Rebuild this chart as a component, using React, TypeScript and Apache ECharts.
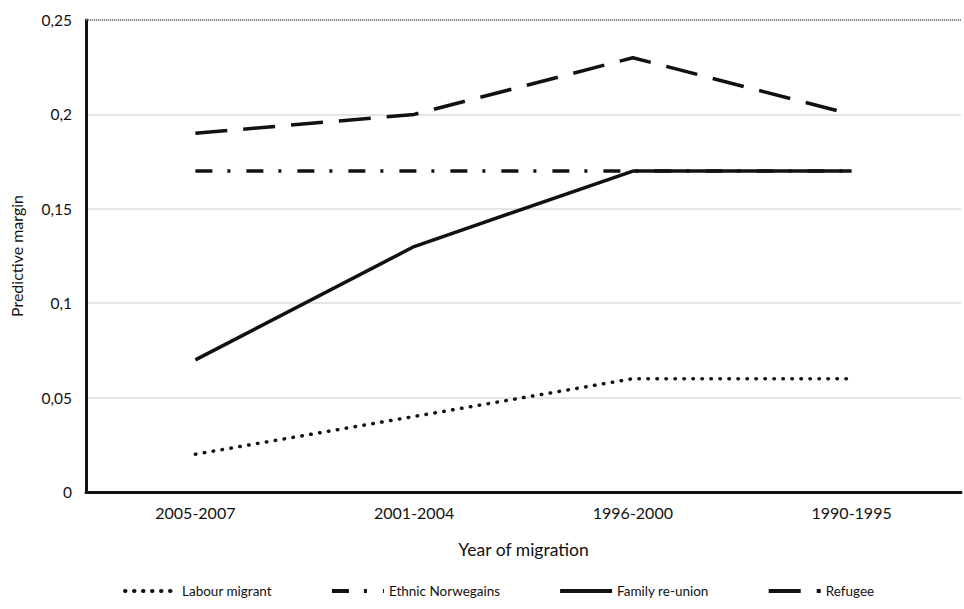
import React, { useEffect, useRef } from "react";
import * as echarts from "echarts";

const categories = ["2005-2007", "2001-2004", "1996-2000", "1990-1995"];
const labourMigrant = [0.02, 0.04, 0.06, 0.06];
const ethnicNorwegians = [0.17, 0.17, 0.17, 0.17];
const familyReunion = [0.07, 0.13, 0.17, 0.17];
const refugee = [0.19, 0.2, 0.23, 0.2];
const seriesNames = ["Labour migrant", "Ethnic Norwegains", "Family re-union", "Refugee"];

const FONT = "Lato, 'Open Sans', sans-serif";

export default function App() {
  const ref = useRef<HTMLDivElement>(null);
  useEffect(() => {
    if (!ref.current) return;
    const chart = echarts.init(ref.current, null, { renderer: "svg" });
    const base = {
      type: "line",
      symbol: "none",
      smooth: false,
      z: 3,
    };
    chart.setOption({
      animation: false,
      backgroundColor: "#ffffff",
      grid: { left: 85, right: 3, top: 20, bottom: 117 },
      legend: {
        bottom: 6,
        left: 118,
        itemWidth: 52,
        itemHeight: 12,
        itemGap: 58,
        itemStyle: { opacity: 0 },
        lineStyle: { width: 4 },
        textStyle: { fontFamily: FONT, fontSize: 13.5, color: "#111" },
        data: seriesNames,
      },
      xAxis: {
        type: "category",
        data: categories,
        boundaryGap: true,
        name: "Year of migration",
        nameLocation: "middle",
        nameGap: 48,
        nameTextStyle: { fontFamily: FONT, fontSize: 17.5, color: "#111" },
        axisLine: { lineStyle: { color: "#111", width: 3 } },
        axisTick: { show: false },
        axisLabel: { fontFamily: FONT, fontSize: 16, color: "#111", margin: 12 },
      },
      yAxis: {
        type: "value",
        min: 0,
        max: 0.25,
        interval: 0.05,
        name: "Predictive margin",
        nameLocation: "middle",
        nameGap: 62,
        nameTextStyle: { fontFamily: FONT, fontSize: 16, color: "#111" },
        axisLine: { show: true, lineStyle: { color: "#111", width: 3 } },
        axisTick: { show: false },
        axisLabel: {
          fontFamily: FONT,
          fontSize: 15.5,
          color: "#111",
          margin: 14,
          formatter: (v: number) => (Math.round(v * 100) / 100).toString().replace(".", ","),
        },
        splitLine: { show: true, lineStyle: { color: "#dcdcdc", width: 1.5 } },
      },
      series: [
        {
          ...base,
          name: seriesNames[0],
          data: labourMigrant,
          lineStyle: { color: "#111", width: 3.5, type: [0.5, 8.5], cap: "round" },
          itemStyle: { color: "#111" },
        },
        {
          ...base,
          name: seriesNames[1],
          data: ethnicNorwegians,
          lineStyle: { color: "#111", width: 3.5, type: [17, 15, 3, 16], cap: "butt" },
          itemStyle: { color: "#111" },
        },
        {
          ...base,
          name: seriesNames[2],
          data: familyReunion,
          lineStyle: { color: "#111", width: 3.5, type: "solid" },
          itemStyle: { color: "#111" },
        },
        {
          ...base,
          name: seriesNames[3],
          data: refugee,
          lineStyle: { color: "#111", width: 3.5, type: [32, 16], cap: "butt" },
          itemStyle: { color: "#111" },
          markLine: {
            silent: true,
            symbol: "none",
            label: { show: false },
            lineStyle: { color: "#8a8a8a", width: 2, type: [1, 1] },
            data: [{ yAxis: 0.25 }],
          },
        },
      ],
    });
    return () => chart.dispose();
  }, []);
  return (
    <div
      ref={ref}
      style={{ position: "fixed", left: 0, top: 0, width: 964, height: 609, background: "#fff" }}
    />
  );
}
